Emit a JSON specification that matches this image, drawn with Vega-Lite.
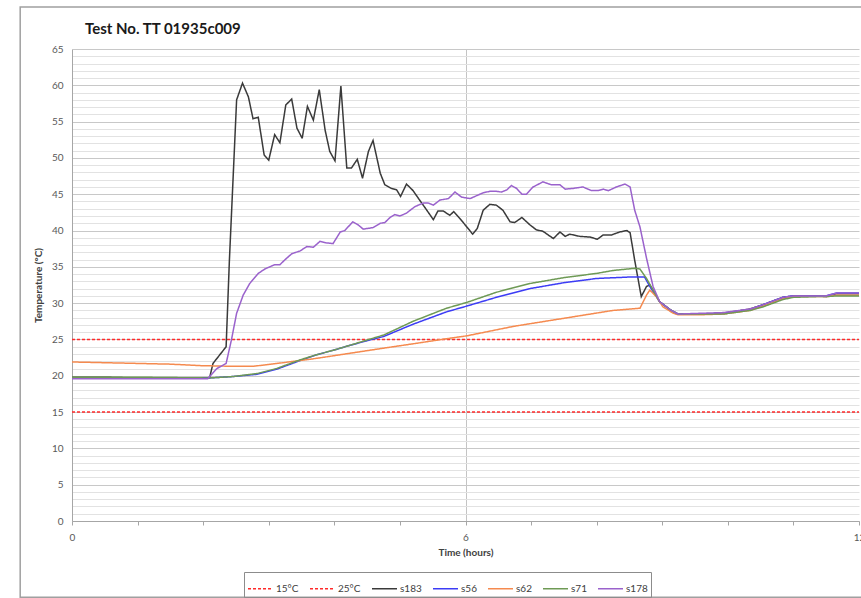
{
"$schema": "https://vega.github.io/schema/vega-lite/v6.json",
"width": 787, "height": 472,
"autosize": "none",
"padding": {"left": 72, "top": 49, "right": 2, "bottom": 77},
"background": "white",
"title": {"text": "Test No. TT 01935c009", "anchor": "start", "frame": "group", "dx": 13, "offset": -31, "fontSize": 15, "fontWeight": "bold", "color": "#1a1a1a", "font": "Lato"},
"config": {
  "view": {"stroke": null},
  "font": "Lato",
  "legend": {"orient": "none", "legendX": 172, "legendY": 523, "direction": "horizontal", "columns": 7, "strokeColor": "#8c8c8c", "padding": 3, "symbolType": "stroke", "symbolSize": 625, "symbolStrokeWidth": 1.5, "labelFontSize": 10, "labelColor": "#404040", "columnPadding": 8, "labelOffset": 2, "labelFont": "Lato"}
},
"layer": [
  {
    "data": {"values": [{}]},
    "mark": {"type": "rect", "filled": false, "stroke": "#a0a0a0", "strokeWidth": 1.5},
    "encoding": {
      "x": {"datum": -0.79, "type": "quantitative", "scale": {"domain": [0, 12], "nice": false, "zero": false}},
      "x2": {"datum": 13},
      "y": {"datum": 70.8, "type": "quantitative", "scale": {"domain": [0, 65], "nice": false}},
      "y2": {"datum": -10.5}
    }
  },
  {
    "data": {"values": [
      {"s":"15°C","t":0,"v":15},{"s":"15°C","t":12,"v":15},
      {"s":"25°C","t":0,"v":25},{"s":"25°C","t":12,"v":25},
      {"s":"s183","t":0,"v":19.8},{"s":"s183","t":0.5,"v":19.8},{"s":"s183","t":1.0,"v":19.7},{"s":"s183","t":1.5,"v":19.7},{"s":"s183","t":2.07,"v":19.7},{"s":"s183","t":2.1,"v":19.8},{"s":"s183","t":2.15,"v":21.7},{"s":"s183","t":2.35,"v":24.0},{"s":"s183","t":2.4,"v":35.9},{"s":"s183","t":2.51,"v":58.0},{"s":"s183","t":2.6,"v":60.3},{"s":"s183","t":2.69,"v":58.4},{"s":"s183","t":2.76,"v":55.4},{"s":"s183","t":2.84,"v":55.6},{"s":"s183","t":2.93,"v":50.4},{"s":"s183","t":3.0,"v":49.7},{"s":"s183","t":3.09,"v":53.2},{"s":"s183","t":3.17,"v":52.1},{"s":"s183","t":3.26,"v":57.3},{"s":"s183","t":3.35,"v":58.1},{"s":"s183","t":3.43,"v":54.1},{"s":"s183","t":3.51,"v":52.7},{"s":"s183","t":3.59,"v":57.1},{"s":"s183","t":3.68,"v":55.2},{"s":"s183","t":3.77,"v":59.4},{"s":"s183","t":3.86,"v":53.8},{"s":"s183","t":3.93,"v":50.9},{"s":"s183","t":4.01,"v":49.6},{"s":"s183","t":4.1,"v":59.9},{"s":"s183","t":4.19,"v":48.6},{"s":"s183","t":4.26,"v":48.6},{"s":"s183","t":4.35,"v":49.8},{"s":"s183","t":4.43,"v":47.2},{"s":"s183","t":4.52,"v":50.9},{"s":"s183","t":4.59,"v":52.4},{"s":"s183","t":4.7,"v":47.9},{"s":"s183","t":4.77,"v":46.3},{"s":"s183","t":4.87,"v":45.8},{"s":"s183","t":4.95,"v":45.6},{"s":"s183","t":5.01,"v":44.7},{"s":"s183","t":5.1,"v":46.4},{"s":"s183","t":5.2,"v":45.5},{"s":"s183","t":5.3,"v":44.2},{"s":"s183","t":5.41,"v":42.8},{"s":"s183","t":5.51,"v":41.5},{"s":"s183","t":5.58,"v":42.7},{"s":"s183","t":5.66,"v":42.7},{"s":"s183","t":5.76,"v":42.1},{"s":"s183","t":5.82,"v":42.6},{"s":"s183","t":5.91,"v":41.7},{"s":"s183","t":6.02,"v":40.5},{"s":"s183","t":6.11,"v":39.5},{"s":"s183","t":6.18,"v":40.3},{"s":"s183","t":6.27,"v":42.8},{"s":"s183","t":6.37,"v":43.6},{"s":"s183","t":6.47,"v":43.5},{"s":"s183","t":6.57,"v":42.8},{"s":"s183","t":6.68,"v":41.2},{"s":"s183","t":6.75,"v":41.1},{"s":"s183","t":6.86,"v":41.8},{"s":"s183","t":6.98,"v":40.8},{"s":"s183","t":7.08,"v":40.1},{"s":"s183","t":7.18,"v":39.9},{"s":"s183","t":7.34,"v":38.9},{"s":"s183","t":7.44,"v":39.8},{"s":"s183","t":7.52,"v":39.2},{"s":"s183","t":7.59,"v":39.5},{"s":"s183","t":7.74,"v":39.2},{"s":"s183","t":7.9,"v":39.1},{"s":"s183","t":8.01,"v":38.8},{"s":"s183","t":8.1,"v":39.4},{"s":"s183","t":8.23,"v":39.4},{"s":"s183","t":8.35,"v":39.8},{"s":"s183","t":8.46,"v":40.0},{"s":"s183","t":8.51,"v":39.7},{"s":"s183","t":8.58,"v":35.9},{"s":"s183","t":8.68,"v":30.9},{"s":"s183","t":8.76,"v":32.3},{"s":"s183","t":8.81,"v":32.5},{"s":"s183","t":8.86,"v":31.8},{"s":"s183","t":8.96,"v":30.2},{"s":"s183","t":9.12,"v":29.1},{"s":"s183","t":9.24,"v":28.5},{"s":"s183","t":9.57,"v":28.5},{"s":"s183","t":9.93,"v":28.6},{"s":"s183","t":10.34,"v":29.2},{"s":"s183","t":10.54,"v":29.8},{"s":"s183","t":10.84,"v":30.8},{"s":"s183","t":11.0,"v":31.0},{"s":"s183","t":11.35,"v":31.0},{"s":"s183","t":11.5,"v":30.9},{"s":"s183","t":11.66,"v":31.3},{"s":"s183","t":12,"v":31.3},
      {"s":"s56","t":0,"v":19.7},{"s":"s56","t":1.0,"v":19.7},{"s":"s56","t":2.1,"v":19.7},{"s":"s56","t":2.46,"v":19.9},{"s":"s56","t":2.82,"v":20.2},{"s":"s56","t":3.12,"v":20.9},{"s":"s56","t":3.48,"v":22.1},{"s":"s56","t":3.73,"v":22.9},{"s":"s56","t":3.98,"v":23.5},{"s":"s56","t":4.24,"v":24.2},{"s":"s56","t":4.49,"v":24.8},{"s":"s56","t":4.75,"v":25.4},{"s":"s56","t":5.2,"v":27.1},{"s":"s56","t":5.71,"v":28.8},{"s":"s56","t":6.02,"v":29.6},{"s":"s56","t":6.47,"v":30.8},{"s":"s56","t":6.98,"v":32.0},{"s":"s56","t":7.49,"v":32.8},{"s":"s56","t":8.0,"v":33.4},{"s":"s56","t":8.51,"v":33.6},{"s":"s56","t":8.73,"v":33.6},{"s":"s56","t":8.81,"v":32.3},{"s":"s56","t":8.86,"v":31.6},{"s":"s56","t":8.96,"v":30.2},{"s":"s56","t":9.12,"v":29.1},{"s":"s56","t":9.24,"v":28.5},{"s":"s56","t":9.57,"v":28.5},{"s":"s56","t":9.93,"v":28.6},{"s":"s56","t":10.34,"v":29.1},{"s":"s56","t":10.54,"v":29.8},{"s":"s56","t":10.84,"v":30.8},{"s":"s56","t":11.0,"v":31.0},{"s":"s56","t":11.35,"v":31.0},{"s":"s56","t":11.5,"v":31.0},{"s":"s56","t":11.66,"v":31.4},{"s":"s56","t":12,"v":31.4},
      {"s":"s62","t":0,"v":21.9},{"s":"s62","t":0.5,"v":21.8},{"s":"s62","t":1.0,"v":21.7},{"s":"s62","t":1.5,"v":21.6},{"s":"s62","t":1.95,"v":21.4},{"s":"s62","t":2.46,"v":21.3},{"s":"s62","t":2.76,"v":21.3},{"s":"s62","t":3.22,"v":21.8},{"s":"s62","t":3.73,"v":22.4},{"s":"s62","t":4.24,"v":23.1},{"s":"s62","t":4.75,"v":23.8},{"s":"s62","t":5.2,"v":24.4},{"s":"s62","t":5.71,"v":25.1},{"s":"s62","t":6.02,"v":25.5},{"s":"s62","t":6.73,"v":26.8},{"s":"s62","t":7.49,"v":27.9},{"s":"s62","t":8.25,"v":29.0},{"s":"s62","t":8.66,"v":29.3},{"s":"s62","t":8.76,"v":31.1},{"s":"s62","t":8.81,"v":31.8},{"s":"s62","t":8.91,"v":30.9},{"s":"s62","t":9.01,"v":29.5},{"s":"s62","t":9.17,"v":28.6},{"s":"s62","t":9.24,"v":28.4},{"s":"s62","t":9.57,"v":28.4},{"s":"s62","t":9.93,"v":28.5},{"s":"s62","t":10.34,"v":29.0},{"s":"s62","t":10.54,"v":29.6},{"s":"s62","t":10.84,"v":30.6},{"s":"s62","t":11.0,"v":30.9},{"s":"s62","t":11.35,"v":30.9},{"s":"s62","t":11.5,"v":30.9},{"s":"s62","t":11.66,"v":31.1},{"s":"s62","t":12,"v":31.1},
      {"s":"s71","t":0,"v":19.8},{"s":"s71","t":1.0,"v":19.8},{"s":"s71","t":2.1,"v":19.7},{"s":"s71","t":2.46,"v":19.9},{"s":"s71","t":2.82,"v":20.3},{"s":"s71","t":3.12,"v":21.0},{"s":"s71","t":3.48,"v":22.2},{"s":"s71","t":3.73,"v":22.9},{"s":"s71","t":3.98,"v":23.5},{"s":"s71","t":4.24,"v":24.2},{"s":"s71","t":4.49,"v":24.9},{"s":"s71","t":4.75,"v":25.6},{"s":"s71","t":5.2,"v":27.5},{"s":"s71","t":5.71,"v":29.3},{"s":"s71","t":6.02,"v":30.1},{"s":"s71","t":6.47,"v":31.5},{"s":"s71","t":6.98,"v":32.7},{"s":"s71","t":7.49,"v":33.5},{"s":"s71","t":8.0,"v":34.1},{"s":"s71","t":8.25,"v":34.5},{"s":"s71","t":8.58,"v":34.8},{"s":"s71","t":8.66,"v":34.7},{"s":"s71","t":8.76,"v":33.4},{"s":"s71","t":8.86,"v":31.8},{"s":"s71","t":8.96,"v":30.2},{"s":"s71","t":9.12,"v":29.1},{"s":"s71","t":9.24,"v":28.5},{"s":"s71","t":9.57,"v":28.5},{"s":"s71","t":9.93,"v":28.5},{"s":"s71","t":10.34,"v":29.0},{"s":"s71","t":10.54,"v":29.5},{"s":"s71","t":10.84,"v":30.5},{"s":"s71","t":11.0,"v":30.8},{"s":"s71","t":11.35,"v":30.9},{"s":"s71","t":11.5,"v":30.9},{"s":"s71","t":11.66,"v":31.0},{"s":"s71","t":12,"v":31.0},
      {"s":"s178","t":0,"v":19.6},{"s":"s178","t":1.0,"v":19.6},{"s":"s178","t":2.07,"v":19.6},{"s":"s178","t":2.1,"v":19.9},{"s":"s178","t":2.21,"v":21.0},{"s":"s178","t":2.35,"v":21.7},{"s":"s178","t":2.43,"v":24.9},{"s":"s178","t":2.51,"v":28.6},{"s":"s178","t":2.61,"v":31.1},{"s":"s178","t":2.71,"v":32.7},{"s":"s178","t":2.84,"v":34.1},{"s":"s178","t":2.94,"v":34.7},{"s":"s178","t":3.09,"v":35.3},{"s":"s178","t":3.17,"v":35.3},{"s":"s178","t":3.25,"v":36.0},{"s":"s178","t":3.35,"v":36.8},{"s":"s178","t":3.48,"v":37.2},{"s":"s178","t":3.58,"v":37.8},{"s":"s178","t":3.68,"v":37.7},{"s":"s178","t":3.78,"v":38.5},{"s":"s178","t":3.88,"v":38.3},{"s":"s178","t":3.98,"v":38.2},{"s":"s178","t":4.09,"v":39.8},{"s":"s178","t":4.16,"v":40.0},{"s":"s178","t":4.28,"v":41.2},{"s":"s178","t":4.36,"v":40.8},{"s":"s178","t":4.44,"v":40.2},{"s":"s178","t":4.59,"v":40.4},{"s":"s178","t":4.7,"v":41.0},{"s":"s178","t":4.77,"v":41.1},{"s":"s178","t":4.85,"v":41.8},{"s":"s178","t":4.92,"v":42.2},{"s":"s178","t":5.0,"v":42.0},{"s":"s178","t":5.1,"v":42.4},{"s":"s178","t":5.23,"v":43.3},{"s":"s178","t":5.36,"v":43.8},{"s":"s178","t":5.43,"v":43.8},{"s":"s178","t":5.51,"v":43.5},{"s":"s178","t":5.61,"v":44.2},{"s":"s178","t":5.74,"v":44.4},{"s":"s178","t":5.84,"v":45.3},{"s":"s178","t":5.94,"v":44.6},{"s":"s178","t":6.07,"v":44.4},{"s":"s178","t":6.17,"v":44.8},{"s":"s178","t":6.27,"v":45.2},{"s":"s178","t":6.37,"v":45.4},{"s":"s178","t":6.47,"v":45.4},{"s":"s178","t":6.55,"v":45.3},{"s":"s178","t":6.63,"v":45.6},{"s":"s178","t":6.7,"v":46.2},{"s":"s178","t":6.78,"v":45.8},{"s":"s178","t":6.86,"v":45.0},{"s":"s178","t":6.93,"v":45.0},{"s":"s178","t":7.03,"v":46.0},{"s":"s178","t":7.18,"v":46.7},{"s":"s178","t":7.31,"v":46.3},{"s":"s178","t":7.44,"v":46.3},{"s":"s178","t":7.52,"v":45.7},{"s":"s178","t":7.64,"v":45.8},{"s":"s178","t":7.79,"v":46.0},{"s":"s178","t":7.92,"v":45.5},{"s":"s178","t":8.02,"v":45.5},{"s":"s178","t":8.1,"v":45.7},{"s":"s178","t":8.18,"v":45.5},{"s":"s178","t":8.3,"v":46.0},{"s":"s178","t":8.43,"v":46.4},{"s":"s178","t":8.51,"v":46.0},{"s":"s178","t":8.58,"v":42.8},{"s":"s178","t":8.66,"v":40.5},{"s":"s178","t":8.76,"v":36.2},{"s":"s178","t":8.86,"v":32.3},{"s":"s178","t":8.96,"v":30.2},{"s":"s178","t":9.12,"v":29.1},{"s":"s178","t":9.24,"v":28.5},{"s":"s178","t":9.57,"v":28.6},{"s":"s178","t":9.93,"v":28.7},{"s":"s178","t":10.34,"v":29.2},{"s":"s178","t":10.54,"v":29.8},{"s":"s178","t":10.84,"v":30.8},{"s":"s178","t":11.0,"v":31.0},{"s":"s178","t":11.35,"v":31.0},{"s":"s178","t":11.5,"v":31.0},{"s":"s178","t":11.66,"v":31.4},{"s":"s178","t":12,"v":31.4}
    ]},
    "mark": {"type": "line", "strokeWidth": 1.5},
    "encoding": {
      "x": {"field": "t", "type": "quantitative",
        "scale": {"domain": [0, 12], "nice": false, "zero": false},
        "axis": {"title": "Time (hours)", "values": [0,1,2,3,4,5,6,7,8,9,10,11,12], "tickCount": 20, "format": "d",
          "labelExpr": "datum.value % 6 === 0 ? datum.label : ''", "labelOverlap": false, "labelFlush": false,
          "grid": true, "gridColor": "#c4c4c4", "gridOpacity": {"condition": {"test": "datum.value === 6", "value": 1}, "value": 0},
          "tickSize": 4, "tickColor": "#a6a6a6", "domainColor": "#a6a6a6", "labelColor": "#595959", "labelFontSize": 10, "labelPadding": 7,
          "titleFontSize": 10, "titleFontWeight": "bold", "titleColor": "#404040", "titlePadding": 5}},
      "y": {"field": "v", "type": "quantitative",
        "scale": {"domain": [0, 65], "nice": false},
        "axis": {"title": "Temperature (°C)", "values": [0,1,2,3,4,5,6,7,8,9,10,11,12,13,14,15,16,17,18,19,20,21,22,23,24,25,26,27,28,29,30,31,32,33,34,35,36,37,38,39,40,41,42,43,44,45,46,47,48,49,50,51,52,53,54,55,56,57,58,59,60,61,62,63,64,65], "tickCount": 100, "format": "d",
          "labelExpr": "datum.value % 5 === 0 ? datum.label : ''", "labelOverlap": false, "labelFlush": false,
          "grid": true, "gridColor": {"condition": {"test": "datum.value % 5 === 0", "value": "#c8c8c8"}, "value": "#e2e2e2"},
          "ticks": false, "domainColor": "#a6a6a6", "labelColor": "#595959", "labelFontSize": 10, "labelPadding": 9,
          "titleFontSize": 10, "titleFontWeight": "bold", "titleColor": "#404040", "titlePadding": 8}},
      "color": {"field": "s", "type": "nominal", "title": null,
        "scale": {"domain": ["15°C","25°C","s183","s56","s62","s71","s178"], "range": ["#ff2a2a","#ff2a2a","#3a3a3a","#3c3cf5","#f58a4f","#6e9a55","#9a62cc"]},
        "legend": {"title": null}},
      "strokeDash": {"field": "s", "type": "nominal", "title": null,
        "scale": {"domain": ["15°C","25°C","s183","s56","s62","s71","s178"], "range": [[3,2],[3,2],[1,0],[1,0],[1,0],[1,0],[1,0]]},
        "legend": {"title": null}}
    }
  }
]
}
